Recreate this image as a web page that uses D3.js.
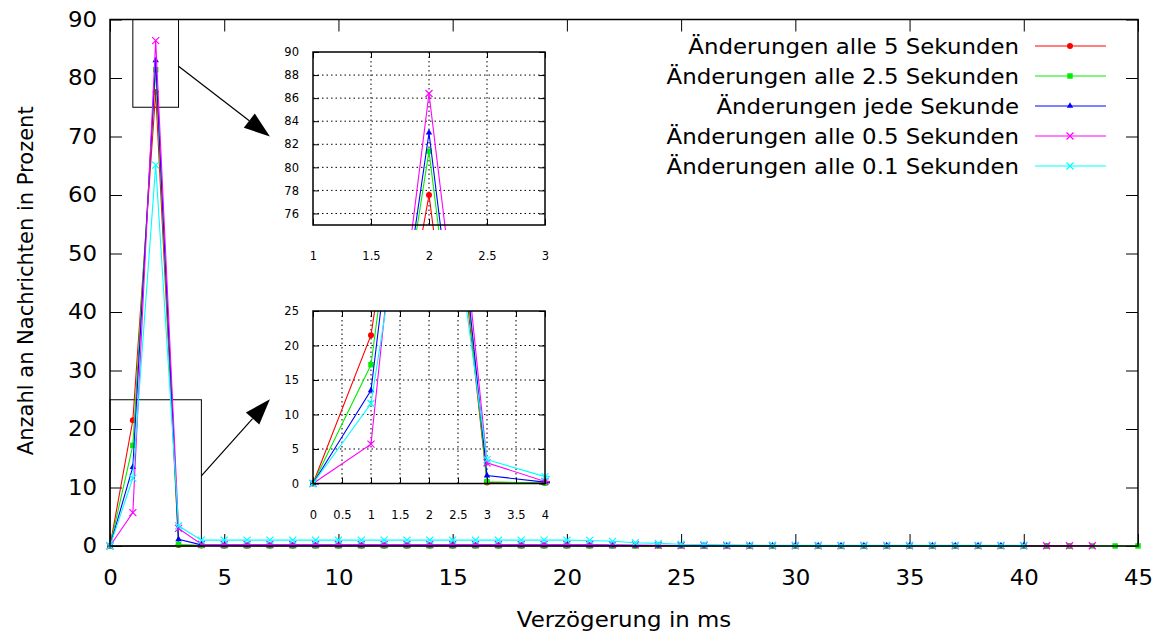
<!DOCTYPE html>
<html>
<head>
<meta charset="utf-8">
<title>Verzögerung in ms</title>
<style>
body { margin: 0; background: #fff; }
svg text { font-family: "DejaVu Sans", Verdana, sans-serif; fill: #000; }
</style>
</head>
<body>

<svg id="chart" width="1161" height="636"></svg>

<script src="https://d3js.org/d3.v7.min.js"></script>
<script>

// delays in ms (x values)
const delays = [0, 1, 2, 3, 4, 5, 6, 7, 8, 9, 10, 11, 12, 13, 14, 15, 16, 17, 18, 19, 20, 21, 22,
  23, 24, 25, 26, 27, 28, 29, 30, 31, 32, 33, 34, 35, 36, 37, 38, 39, 40, 41, 42, 43, 44, 45];

// percent of messages per delay, one array per series
const every5s = [0, 21.5, 77.6, 0.15, 0.08, 0.05, 0.05, 0.05, 0.05, 0.05, 0.05, 0.05, 0.05, 0.05, 0.05,
  0.05, 0.05, 0.05, 0.05, 0.05, 0.05, 0.04, 0.04, 0.03, 0.03, 0.03, 0.02, 0.02, 0.02, 0.02, 0.02,
  0.02, 0.02, 0.02, 0.02, 0.02, 0.02, 0.02, 0.02, 0.02, 0.02, 0.01, 0.01];
const every25s = [0, 17.2, 81.4, 0.25, 0.08, 0.03, 0.03, 0.03, 0.03, 0.03, 0.03, 0.03, 0.03, 0.03, 0.03,
  0.03, 0.03, 0.03, 0.03, 0.03, 0.03, 0.03, 0.03, 0.02, 0.02, 0.02, 0.02, 0.02, 0.02, 0.02, 0.02,
  0.02, 0.02, 0.02, 0.02, 0.02, 0.02, 0.02, 0.02, 0.02, 0.02, 0.01, 0.01, 0.01, 0.01, 0.01];
const every1s = [0, 13.5, 83.0, 1.15, 0.2, 0.1, 0.1, 0.1, 0.1, 0.1, 0.1, 0.1, 0.1, 0.1, 0.1,
  0.1, 0.1, 0.1, 0.1, 0.1, 0.1, 0.1, 0.1, 0.08, 0.08, 0.08, 0.08, 0.08, 0.08, 0.08, 0.08,
  0.08, 0.08, 0.08, 0.08, 0.08, 0.08, 0.08, 0.08, 0.08, 0.08];
const every05s = [0, 5.7, 86.4, 3.0, 0.3, 0.25, 0.25, 0.25, 0.25, 0.25, 0.25, 0.25, 0.25, 0.25, 0.25,
  0.25, 0.25, 0.25, 0.25, 0.25, 0.25, 0.25, 0.22, 0.18, 0.12, 0.08, 0.06, 0.05, 0.05, 0.05, 0.05,
  0.05, 0.05, 0.05, 0.05, 0.05, 0.05, 0.05, 0.05, 0.05, 0.05, 0.04, 0.04, 0.04];
const every01s = [0, 11.6, 65.1, 3.45, 1.0, 1.0, 1.0, 1.0, 1.0, 1.0, 1.0, 1.0, 1.0, 1.0, 1.0,
  1.0, 1.0, 1.0, 1.0, 1.0, 1.0, 0.95, 0.8, 0.55, 0.45, 0.3, 0.25, 0.2, 0.15, 0.12, 0.1,
  0.1, 0.1, 0.1, 0.1, 0.1, 0.1, 0.1, 0.1, 0.1, 0.1];

const seriesNames = [
  "Änderungen alle 5 Sekunden",
  "Änderungen alle 2.5 Sekunden",
  "Änderungen jede Sekunde",
  "Änderungen alle 0.5 Sekunden",
  "Änderungen alle 0.1 Sekunden"
];
const seriesValues = [every5s, every25s, every1s, every05s, every01s];
const seriesColors = ["#ff0000", "#00ee00", "#0000ff", "#ff00ff", "#00ffff"];
const seriesShapes = ["circle", "square", "triangle", "cross", "cross"];

// axis ticks
const xTicks = [0, 5, 10, 15, 20, 25, 30, 35, 40, 45];
const yTicks = [0, 10, 20, 30, 40, 50, 60, 70, 80, 90];

// zoomed regions
const peakXRange = [1, 3];
const peakYRange = [75, 90];
const peakXTicks = [1, 1.5, 2, 2.5, 3];
const peakYTicks = [76, 78, 80, 82, 84, 86, 88, 90];
const baseXRange = [0, 4];
const baseYRange = [0, 25];
const baseXTicks = [0, 0.5, 1, 1.5, 2, 2.5, 3, 3.5, 4];
const baseYTicks = [0, 5, 10, 15, 20, 25];

// arrows from zoom box to inset, in main data coords
const arrows = [
  { from: [3, 82], to: [7, 70] },
  { from: [4, 12], to: [7, 25.1] }
];

const series = seriesNames.map((name, i) => ({
  name: name,
  color: seriesColors[i],
  shape: seriesShapes[i],
  points: seriesValues[i].map((v, j) => ({ x: delays[j], y: v }))
}));

const svg = d3.select("#chart");
const fontSize = 21;
const stretch = 1.09; // horizontal text is a bit wider in the original

const x = d3.scaleLinear().domain([0, 45]).range([110, 1138]);
const y = d3.scaleLinear().domain([0, 90]).range([546, 19.5]);

function addMarker(g, shape, color, cx, cy) {
  if (shape === "cross") {
    const r = 3.5;
    g.append("path")
      .attr("d", `M${cx - r},${cy - r}L${cx + r},${cy + r}M${cx - r},${cy + r}L${cx + r},${cy - r}`)
      .attr("stroke", color)
      .attr("stroke-width", 1.2)
      .attr("fill", "none");
  } else {
    const type = shape === "circle" ? d3.symbolCircle : shape === "square" ? d3.symbolSquare : d3.symbolTriangle;
    const size = shape === "circle" ? 28 : shape === "square" ? 30 : 18;
    g.append("path")
      .attr("d", d3.symbol().type(type).size(size)())
      .attr("transform", `translate(${cx},${cy})`)
      .attr("fill", color);
  }
}

function drawSeries(g, sx, sy) {
  const line = d3.line().x(d => sx(d.x)).y(d => sy(d.y));
  series.forEach(s => {
    g.append("path")
      .datum(s.points)
      .attr("fill", "none")
      .attr("stroke", s.color)
      .attr("stroke-width", 1.1)
      .attr("d", line);
    s.points.forEach(p => addMarker(g, s.shape, s.color, sx(p.x), sy(p.y)));
  });
}

// zoom boxes on the main plot
[[peakXRange, peakYRange], [baseXRange, baseYRange]].forEach(([xr, yr]) => {
  svg.append("rect")
    .attr("x", x(xr[0]))
    .attr("y", y(yr[1]))
    .attr("width", x(xr[1]) - x(xr[0]))
    .attr("height", y(yr[0]) - y(yr[1]))
    .attr("fill", "none")
    .attr("stroke", "#000")
    .attr("stroke-width", 1);
});

// arrows
arrows.forEach(a => {
  const x1 = x(a.from[0]), y1 = y(a.from[1]);
  const x2 = x(a.to[0]), y2 = y(a.to[1]);
  const ang = Math.atan2(y2 - y1, x2 - x1);
  const len = 26, half = 9;
  const bx = x2 - len * Math.cos(ang), by = y2 - len * Math.sin(ang);
  svg.append("line")
    .attr("x1", x1).attr("y1", y1)
    .attr("x2", bx).attr("y2", by)
    .attr("stroke", "#000")
    .attr("stroke-width", 1.2);
  const px = -Math.sin(ang) * half, py = Math.cos(ang) * half;
  svg.append("path")
    .attr("d", `M${x2},${y2}L${bx + px},${by + py}L${bx - px},${by - py}Z`)
    .attr("fill", "#000");
});

// main axes (ticks inward, mirrored)
function styleAxis(g, fs, sx) {
  g.select(".domain").remove();
  g.selectAll(".tick line").attr("stroke", "#000").attr("stroke-width", 1);
  g.selectAll("text")
    .attr("font-size", fs)
    .attr("font-family", "DejaVu Sans, Verdana, sans-serif")
    .attr("fill", "#000");
  if (sx) {
    g.selectAll(".tick text").each(function() {
      const t = d3.select(this);
      const tx = +t.attr("x") || 0;
      t.attr("x", tx / sx).attr("transform", `scale(${sx},1)`);
    });
  }
}

svg.append("g")
  .attr("transform", `translate(0,${y(0)})`)
  .call(d3.axisBottom(x).tickValues(xTicks).tickSizeInner(-12).tickSizeOuter(0).tickPadding(24))
  .call(g => styleAxis(g, fontSize, stretch));
svg.append("g")
  .attr("transform", `translate(0,${y(90)})`)
  .call(d3.axisTop(x).tickValues(xTicks).tickSizeInner(-12).tickSizeOuter(0).tickFormat(""))
  .call(g => styleAxis(g, fontSize));
svg.append("g")
  .attr("transform", `translate(${x(0)},0)`)
  .call(d3.axisLeft(y).tickValues(yTicks).tickSizeInner(-12).tickSizeOuter(0).tickPadding(13))
  .call(g => styleAxis(g, fontSize, stretch));
svg.append("g")
  .attr("transform", `translate(${x(45)},0)`)
  .call(d3.axisRight(y).tickValues(yTicks).tickSizeInner(-12).tickSizeOuter(0).tickFormat(""))
  .call(g => styleAxis(g, fontSize));

// main curves
drawSeries(svg.append("g"), x, y);

// frame
svg.append("rect")
  .attr("x", x(0)).attr("y", y(90))
  .attr("width", x(45) - x(0)).attr("height", y(0) - y(90))
  .attr("fill", "none").attr("stroke", "#000").attr("stroke-width", 1.5);

// axis titles
svg.append("text")
  .attr("transform", `translate(${(x(0) + x(45)) / 2},627) scale(${stretch},1)`)
  .attr("text-anchor", "middle")
  .attr("font-size", fontSize)
  .text("Verzögerung in ms");
svg.append("text")
  .attr("transform", `translate(33,${(y(0) + y(90)) / 2 - 2}) rotate(-90)`)
  .attr("text-anchor", "middle")
  .attr("font-size", fontSize)
  .text("Anzahl an Nachrichten in Prozent");

// insets
function drawInset(box, xr, yr, xt, yt, clipId) {
  const ix = d3.scaleLinear().domain(xr).range([box.left, box.right]);
  const iy = d3.scaleLinear().domain(yr).range([box.bottom, box.top]);
  const fmt = d => String(d);
  const g = svg.append("g");
  g.append("rect")
    .attr("x", box.left).attr("y", box.top)
    .attr("width", box.right - box.left).attr("height", box.bottom - box.top)
    .attr("fill", "#fff");

  // dotted grid
  xt.slice(1, -1).forEach(t => {
    g.append("line")
      .attr("x1", ix(t)).attr("x2", ix(t))
      .attr("y1", box.top).attr("y2", box.bottom)
      .attr("stroke", "#000").attr("stroke-width", 1).attr("stroke-dasharray", "1.5,3");
  });
  yt.forEach(t => {
    if (t === yr[0] || t === yr[1]) return;
    g.append("line")
      .attr("x1", box.left).attr("x2", box.right)
      .attr("y1", iy(t)).attr("y2", iy(t))
      .attr("stroke", "#000").attr("stroke-width", 1).attr("stroke-dasharray", "1.5,3");
  });

  g.append("clipPath").attr("id", clipId)
    .append("rect")
    .attr("x", box.left - 5).attr("y", box.top)
    .attr("width", box.right - box.left + 10).attr("height", box.bottom - box.top + 5);
  drawSeries(g.append("g").attr("clip-path", `url(#${clipId})`), ix, iy);

  const fs = 11.5;
  g.append("g")
    .attr("transform", `translate(0,${box.bottom})`)
    .call(d3.axisBottom(ix).tickValues(xt).tickFormat(fmt).tickSizeInner(-6).tickSizeOuter(0).tickPadding(27))
    .call(a => styleAxis(a, fs));
  g.append("g")
    .attr("transform", `translate(0,${box.top})`)
    .call(d3.axisTop(ix).tickValues(xt).tickSizeInner(-6).tickSizeOuter(0).tickFormat(""))
    .call(a => styleAxis(a, fs));
  g.append("g")
    .attr("transform", `translate(${box.left},0)`)
    .call(d3.axisLeft(iy).tickValues(yt).tickFormat(fmt).tickSizeInner(-6).tickSizeOuter(0).tickPadding(14))
    .call(a => styleAxis(a, fs));
  g.append("g")
    .attr("transform", `translate(${box.right},0)`)
    .call(d3.axisRight(iy).tickValues(yt).tickSizeInner(-6).tickSizeOuter(0).tickFormat(""))
    .call(a => styleAxis(a, fs));

  g.append("rect")
    .attr("x", box.left).attr("y", box.top)
    .attr("width", box.right - box.left).attr("height", box.bottom - box.top)
    .attr("fill", "none").attr("stroke", "#000").attr("stroke-width", 1.5);
}

drawInset({ left: 313, right: 545, top: 52, bottom: 225 }, peakXRange, peakYRange, peakXTicks, peakYTicks, "clipPeak");
drawInset({ left: 313, right: 545, top: 311, bottom: 483.5 }, baseXRange, baseYRange, baseXTicks, baseYTicks, "clipBase");

// legend
const legend = svg.append("g");
series.forEach((s, i) => {
  const cy = 46 + i * 30;
  legend.append("text")
    .attr("transform", `translate(1019,${cy}) scale(${stretch},1)`)
    .attr("dy", "0.36em")
    .attr("text-anchor", "end")
    .attr("font-size", fontSize)
    .text(s.name);
  legend.append("line")
    .attr("x1", 1035).attr("x2", 1106)
    .attr("y1", cy).attr("y2", cy)
    .attr("stroke", s.color)
    .attr("stroke-width", 1.2);
  addMarker(legend, s.shape, s.color, 1070, cy);
});

</script>
</body>
</html>
